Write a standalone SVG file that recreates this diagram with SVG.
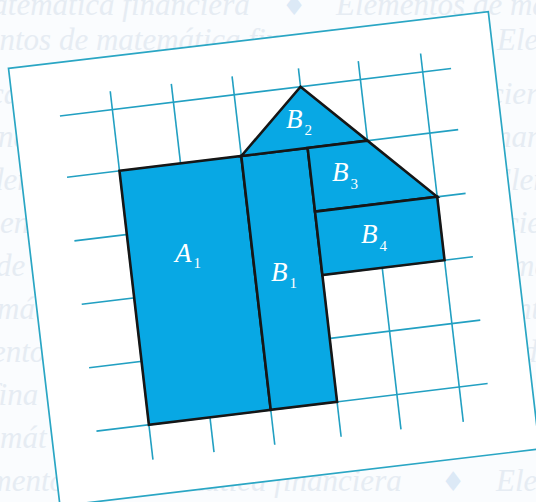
<svg xmlns="http://www.w3.org/2000/svg" width="536" height="502" viewBox="0 0 536 502">
<style>
.wm{font-family:"Liberation Serif","Times New Roman",serif;font-style:italic;font-size:31px;fill:#e6ecf3}
.dia{font-family:"DejaVu Sans",sans-serif;font-style:normal;font-size:27px;fill:#dce9f6}
.grid line{stroke:#22a0c2;stroke-width:1.6;stroke-linecap:butt}
.paper{fill:#ffffff;stroke:#2aa6c4;stroke-width:1.7}
.shape{fill:#08a8e4;stroke:#161616;stroke-width:2.6;stroke-linejoin:miter}
.lbl{font-family:"Liberation Serif","Times New Roman",serif;font-style:italic;font-size:27px;fill:#ffffff}
.sub{font-style:normal;font-size:15px}
</style>
<rect x="0" y="0" width="536" height="502" fill="#fafcfe"/>
<g id="watermark" class="wm">
<text x="-204" y="15">Elementos de matemática financiera<tspan class="dia" x="282">♦</tspan><tspan x="336">Elementos de matemática financiera</tspan></text>
<text x="-78" y="50">Elementos de matemática financiera<tspan class="dia" x="445">♦</tspan><tspan x="497">Elementos de matemática financiera</tspan></text>
<text x="-10" y="104">ca</text>
<text x="490" y="104">ciera</text>
<text x="-2" y="147">na</text>
<text x="496" y="147">nan</text>
<text x="-12" y="190">den</text>
<text x="492" y="190">Elem</text>
<text x="0" y="233">en</text>
<text x="505" y="233">cie</text>
<text x="-4" y="276">de</text>
<text x="512" y="276">ma</text>
<text x="-3" y="319">mát</text>
<text x="516" y="319">nto</text>
<text x="-8" y="362">ento</text>
<text x="522" y="362">de</text>
<text x="-10" y="405">fina</text>
<text x="0" y="448">mát</text>
<text x="-52" y="491">Elementos de matemática financiera<tspan class="dia" x="441">♦</tspan><tspan x="496">Elementos de matemática financiera</tspan></text>
</g>
<g id="paper">
<polygon class="paper" points="8.5,68.3 488.3,11.7 539.5,449 60,506"/>
</g>
<g id="grid" class="grid">
<line x1="110.24" y1="91.24" x2="152.94" y2="459.6"/>
<line x1="171.32" y1="83.82" x2="214.02" y2="452.17"/>
<line x1="232.09" y1="76.43" x2="274.79" y2="444.78"/>
<line x1="298.42" y1="68.37" x2="341.12" y2="436.72"/>
<line x1="358.27" y1="61.09" x2="400.97" y2="429.44"/>
<line x1="420.59" y1="53.52" x2="463.29" y2="421.87"/>
<line x1="59.92" y1="116.0" x2="451.1" y2="68.45"/>
<line x1="67.01" y1="177.18" x2="458.19" y2="129.63"/>
<line x1="74.4" y1="240.9" x2="465.58" y2="193.35"/>
<line x1="81.75" y1="304.3" x2="472.93" y2="256.75"/>
<line x1="89.1" y1="367.7" x2="480.28" y2="320.15"/>
<line x1="96.45" y1="431.1" x2="487.63" y2="383.55"/>
</g>
<g id="A1">
<polygon class="shape" points="119.46,170.81 241.31,155.99 270.75,409.91 148.9,424.73"/>
<text class="lbl" x="175" y="262">A<tspan class="sub" dx="2" dy="6">1</tspan></text>
</g>
<g id="B1">
<polygon class="shape" points="241.31,155.99 307.64,147.93 337.08,401.85 270.75,409.91"/>
<text class="lbl" x="271" y="281">B<tspan class="sub" dx="2" dy="7">1</tspan></text>
</g>
<g id="B2">
<polygon class="shape" points="241.31,155.99 300.55,86.75 367.49,140.66"/>
<text class="lbl" x="286" y="128">B<tspan class="sub" dx="2" dy="7">2</tspan></text>
</g>
<g id="B3">
<polygon class="shape" points="307.64,147.93 367.49,140.66 437.2,196.8 315.03,211.65"/>
<text class="lbl" x="332" y="181">B<tspan class="sub" dx="2" dy="8">3</tspan></text>
</g>
<g id="B4">
<polygon class="shape" points="315.03,211.65 437.2,196.8 444.55,260.2 322.38,275.05"/>
<text class="lbl" x="361" y="243">B<tspan class="sub" dx="2" dy="8">4</tspan></text>
</g>
</svg>
